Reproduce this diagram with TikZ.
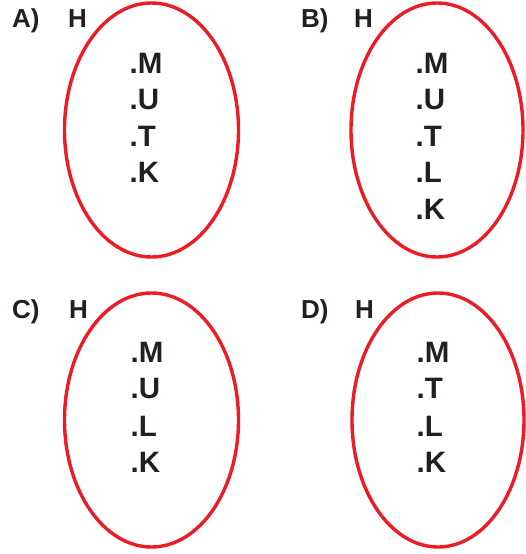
\documentclass[tikz,border=0pt]{standalone}
\usepackage{fontspec}
\setmainfont{Liberation Sans}
\definecolor{ovalred}{RGB}{237,28,36}
\definecolor{ink}{RGB}{35,31,32}
\begin{document}
\begin{tikzpicture}[x=1pt,y=-1pt,
  oval/.style={draw=ovalred,line width=3.4pt},
  lbl/.style={anchor=base west,inner sep=0pt,text=ink,font=\fontsize{26}{26}\selectfont\bfseries},
  elem/.style={anchor=base west,inner sep=0pt,text=ink,font=\fontsize{29.5}{29.5}\selectfont\bfseries}]
\useasboundingbox (0,0) rectangle (526,554);
% A
\draw[oval] (151.5,130) ellipse [x radius=87, y radius=127];
\node[lbl] (la) at (12,27.5) {A)};
\node[lbl] (ha) at (68,27.5) {H};
\node[elem] (a1) at (129.5,73) {.M};
\node[elem] (a2) at (129.5,109.5) {.U};
\node[elem] (a3) at (129.5,146) {.T};
\node[elem] (a4) at (129.5,182.5) {.K};
% B
\draw[oval] (437,130) ellipse [x radius=86, y radius=127];
\node[lbl] (lb) at (301,27.5) {B)};
\node[lbl] (hb) at (354,27.5) {H};
\node[elem] (b1) at (415.5,73) {.M};
\node[elem] (b2) at (415.5,109.5) {.U};
\node[elem] (b3) at (415.5,146) {.T};
\node[elem] (b4) at (415.5,182.5) {.L};
\node[elem] (b5) at (415.5,219) {.K};
% C
\draw[oval] (151.5,420) ellipse [x radius=87, y radius=127];
\node[lbl] (lc) at (12,318) {C)};
\node[lbl] (hc) at (69,318) {H};
\node[elem] (c1) at (130.5,362) {.M};
\node[elem] (c2) at (130.5,398.5) {.U};
\node[elem] (c3) at (130.5,436) {.L};
\node[elem] (c4) at (130.5,472.5) {.K};
% D
\draw[oval] (438,420) ellipse [x radius=86, y radius=127];
\node[lbl] (ld) at (301,318) {D)};
\node[lbl] (hd) at (355,318) {H};
\node[elem] (d1) at (416.5,362) {.M};
\node[elem] (d2) at (416.5,398.5) {.T};
\node[elem] (d3) at (416.5,436) {.L};
\node[elem] (d4) at (416.5,472.5) {.K};
\end{tikzpicture}
\end{document}
